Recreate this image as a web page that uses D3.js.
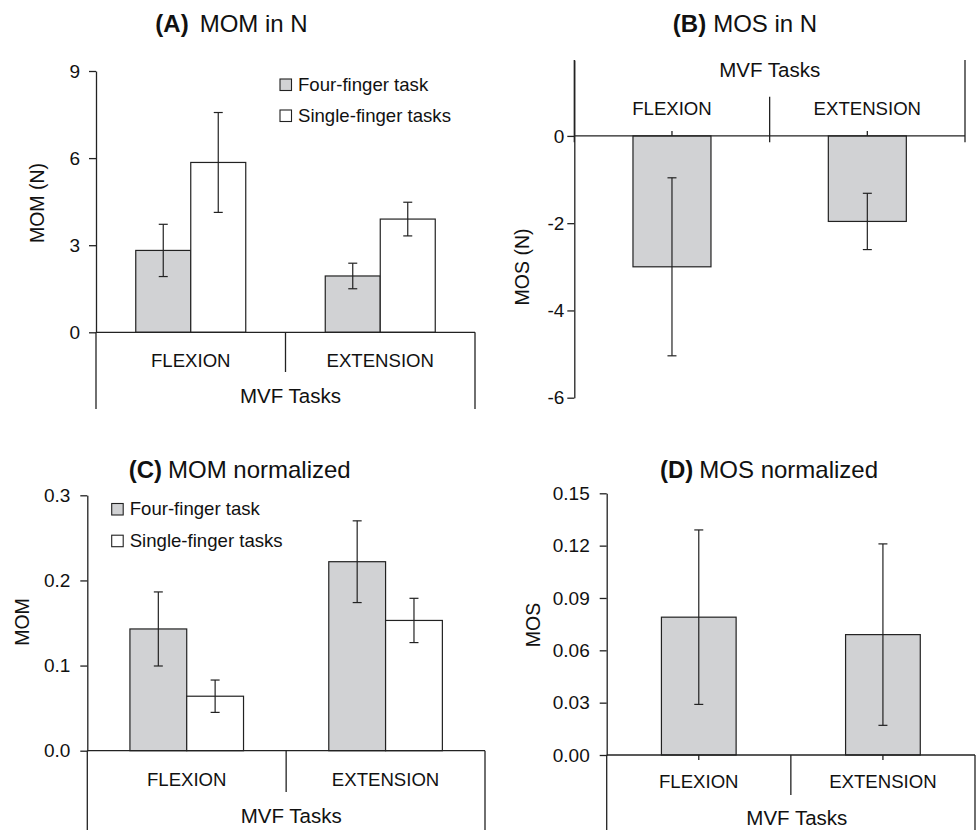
<!DOCTYPE html>
<html>
<head>
<meta charset="utf-8">
<script src="https://cdn.jsdelivr.net/npm/d3@7"></script>
<style>
body { margin: 0; background: #fff; }
svg text { font-family: "Liberation Sans", Arial, Helvetica, sans-serif; fill: #111; }
</style>
</head>
<body>
<svg id="chart" width="976" height="830"></svg>
<script>
// tasks on the x axis
var categories = ["FLEXION", "EXTENSION"];
var seriesNames = ["Four-finger task", "Single-finger tasks"];
var axisTitle = "MVF Tasks";

// (A) MOM in N
var momFour = [2.82, 1.94];
var momFourErr = [0.90, 0.44];
var momSingle = [5.85, 3.90];
var momSingleErr = [1.72, 0.58];
var momTicks = [0, 3, 6, 9];

// (B) MOS in N
var mosVals = [-3.00, -1.96];
var mosErr = [2.04, 0.645];
var mosTicks = [0, -2, -4, -6];

// (C) MOM normalized
var momNormFour = [0.143, 0.222];
var momNormFourErr = [0.0435, 0.048];
var momNormSingle = [0.064, 0.153];
var momNormSingleErr = [0.019, 0.026];
var momNormTicks = [0.0, 0.1, 0.2, 0.3];

// (D) MOS normalized
var mosNormVals = [0.079, 0.069];
var mosNormErr = [0.050, 0.052];
var mosNormTicks = [0.00, 0.03, 0.06, 0.09, 0.12, 0.15];

var GRAY = "#d1d2d4";
var INK = "#222";

var svg = d3.select("#chart");

function drawPanel(p) {
    var g = svg.append("g");

    var y = d3.scaleLinear().domain(p.domain).range([p.bottomY, p.topY]);
    var x0 = d3.scaleBand().domain(categories).range([p.left, p.right]);
    var keys = p.series.map(function (s, i) { return i; });
    var step = x0.bandwidth();
    var x1 = d3.scaleBand().domain(keys)
        .range([(step - p.groupW) / 2, (step + p.groupW) / 2]);
    var zero = y(0);

    // bars
    p.series.forEach(function (s, si) {
        g.selectAll(null)
            .data(s.values)
            .enter()
            .append("rect")
            .attr("x", function (d, i) { return x0(categories[i]) + x1(si); })
            .attr("width", x1.bandwidth())
            .attr("y", function (d) { return Math.min(y(d), zero); })
            .attr("height", function (d) { return Math.abs(y(d) - zero); })
            .attr("fill", s.fill)
            .attr("stroke", INK)
            .attr("stroke-width", 1.2);
    });

    // error bars
    p.series.forEach(function (s, si) {
        s.values.forEach(function (v, i) {
            var cx = x0(categories[i]) + x1(si) + x1.bandwidth() / 2;
            var e = s.err[i];
            g.append("line")
                .attr("x1", cx).attr("x2", cx)
                .attr("y1", y(v + e)).attr("y2", y(v - e))
                .attr("stroke", INK).attr("stroke-width", 1.2);
            [v + e, v - e].forEach(function (c) {
                g.append("line")
                    .attr("x1", cx - 4.5).attr("x2", cx + 4.5)
                    .attr("y1", y(c)).attr("y2", y(c))
                    .attr("stroke", INK).attr("stroke-width", 1.2);
            });
        });
    });

    // y axis
    var yAxis = d3.axisLeft(y)
        .tickValues(p.ticks)
        .tickSize(7)
        .tickSizeOuter(0)
        .tickPadding(p.tickPad)
        .tickFormat(p.fmt);
    var ya = g.append("g")
        .attr("transform", "translate(" + p.left + ",0)")
        .call(yAxis);
    ya.select(".domain").attr("stroke", INK).attr("stroke-width", 1.3);
    ya.selectAll(".tick line").attr("stroke", INK).attr("stroke-width", 1.3);
    ya.selectAll(".tick text")
        .attr("fill", "#111")
        .style("font-size", "19px")
        .style("font-family", "'Liberation Sans', Arial, sans-serif");

    // category box: zero line, separators and outer sides
    g.append("line")
        .attr("x1", p.left).attr("x2", p.right)
        .attr("y1", zero).attr("y2", zero)
        .attr("stroke", INK).attr("stroke-width", 1.3);
    [p.left, p.right].forEach(function (xx) {
        g.append("line")
            .attr("x1", xx).attr("x2", xx)
            .attr("y1", p.outer[0]).attr("y2", p.outer[1])
            .attr("stroke", INK).attr("stroke-width", 1.3);
    });
    categories.slice(1).forEach(function (c) {
        g.append("line")
            .attr("x1", x0(c)).attr("x2", x0(c))
            .attr("y1", p.sep[0]).attr("y2", p.sep[1])
            .attr("stroke", INK).attr("stroke-width", 1.3);
    });
    if (p.centerTick) {
        categories.forEach(function (c) {
            var cx = x0(c) + step / 2;
            g.append("line")
                .attr("x1", cx).attr("x2", cx)
                .attr("y1", zero).attr("y2", zero + p.centerTick)
                .attr("stroke", INK).attr("stroke-width", 1.3);
        });
    }

    // category labels
    g.selectAll(null)
        .data(categories)
        .enter()
        .append("text")
        .attr("x", function (c) { return x0(c) + step / 2; })
        .attr("y", p.catY)
        .attr("text-anchor", "middle")
        .style("font-size", "18.6px")
        .text(function (c) { return c; });

    g.append("text")
        .attr("x", (p.left + p.right) / 2 + p.mvfShift)
        .attr("y", p.mvfY)
        .attr("text-anchor", "middle")
        .style("font-size", "20.5px")
        .text(axisTitle);

    // y title
    g.append("text")
        .attr("transform", "translate(" + p.yLabelX + "," + p.yLabelY + ") rotate(-90)")
        .attr("text-anchor", "middle")
        .attr("dy", "0.35em")
        .style("font-size", "19.5px")
        .text(p.yLabel);

    // panel title
    var t = g.append("text")
        .attr("x", p.titleX)
        .attr("y", p.titleY)
        .attr("text-anchor", "middle")
        .style("font-size", "24px");
    t.append("tspan").attr("font-weight", "bold").text(p.letter);
    t.append("tspan").attr("dx", p.titleGap).text(p.title);

    // legend
    if (p.legend) {
        p.series.forEach(function (s, i) {
            var ly = p.legend.y + i * p.legend.gap;
            g.append("rect")
                .attr("x", p.legend.x).attr("y", ly - 11.5)
                .attr("width", 11.5).attr("height", 11.5)
                .attr("fill", s.fill)
                .attr("stroke", INK).attr("stroke-width", 1.1);
            g.append("text")
                .attr("x", p.legend.x + 18)
                .attr("y", ly)
                .style("font-size", "18.6px")
                .text(s.name);
        });
    }
}

drawPanel({
    letter: "(A)", title: "MOM in N", titleX: 231.5, titleY: 32, titleGap: 11,
    yLabel: "MOM (N)", yLabelX: 37, yLabelY: 203,
    left: 96, right: 475, bottomY: 332.3, topY: 71,
    domain: [0, 9], ticks: momTicks, fmt: d3.format("d"), tickPad: 9,
    series: [
        { name: seriesNames[0], values: momFour, err: momFourErr, fill: GRAY },
        { name: seriesNames[1], values: momSingle, err: momSingleErr, fill: "#fff" }
    ],
    groupW: 110,
    outer: [332.3, 409], sep: [332.3, 372], centerTick: 0,
    catY: 367, mvfY: 403, mvfShift: 5,
    legend: { x: 280, y: 90.5, gap: 31 }
});

drawPanel({
    letter: "(B)", title: "MOS in N", titleX: 745, titleY: 32, titleGap: 7,
    yLabel: "MOS (N)", yLabelX: 521.7, yLabelY: 267,
    left: 574.3, right: 965, bottomY: 397.7, topY: 60,
    domain: [-6, 1.74], ticks: mosTicks, fmt: function (d) { return String(d); }, tickPad: 3,
    series: [
        { name: seriesNames[0], values: mosVals, err: mosErr, fill: GRAY }
    ],
    groupW: 78,
    outer: [60, 142.3], sep: [96.7, 142.3], centerTick: -5,
    catY: 115, mvfY: 77, mvfShift: 0,
    legend: null
});

drawPanel({
    letter: "(C)", title: "MOM normalized", titleX: 239.7, titleY: 478.3, titleGap: 6,
    yLabel: "MOM", yLabelX: 21.7, yLabelY: 622,
    left: 87.3, right: 485, bottomY: 750.7, topY: 495.3,
    domain: [0, 0.3], ticks: momNormTicks, fmt: d3.format(".1f"), tickPad: 10,
    series: [
        { name: seriesNames[0], values: momNormFour, err: momNormFourErr, fill: GRAY },
        { name: seriesNames[1], values: momNormSingle, err: momNormSingleErr, fill: "#fff" }
    ],
    groupW: 113.6,
    outer: [750.7, 830], sep: [750.7, 792], centerTick: 0,
    catY: 785.7, mvfY: 823, mvfShift: 5,
    legend: { x: 111.7, y: 515, gap: 31.7 }
});

drawPanel({
    letter: "(D)", title: "MOS normalized", titleX: 769, titleY: 478, titleGap: 6,
    yLabel: "MOS", yLabelX: 533.3, yLabelY: 625,
    left: 606.7, right: 975, bottomY: 755, topY: 493.3,
    domain: [0, 0.15], ticks: mosNormTicks, fmt: d3.format(".2f"), tickPad: 10,
    series: [
        { name: seriesNames[0], values: mosNormVals, err: mosNormErr, fill: GRAY }
    ],
    groupW: 74.7,
    outer: [755, 830], sep: [755, 795], centerTick: 5,
    catY: 788, mvfY: 825, mvfShift: 6,
    legend: null
});
</script>
</body>
</html>
